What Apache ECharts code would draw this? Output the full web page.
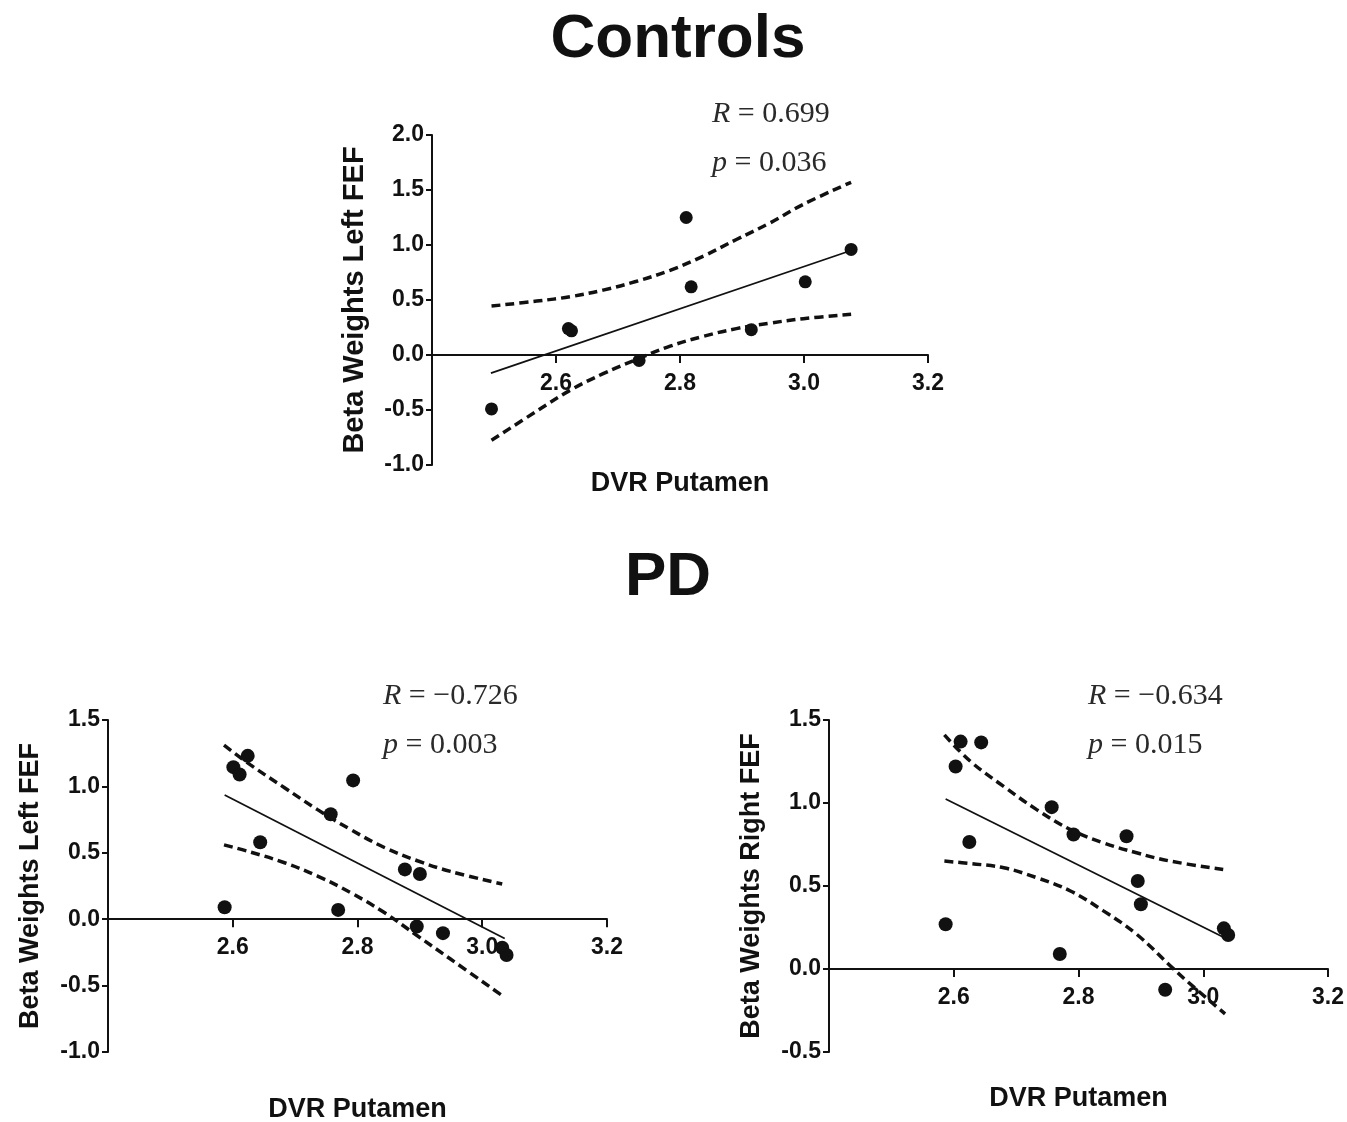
<!DOCTYPE html>
<html>
<head>
<meta charset="utf-8">
<script src="https://cdn.jsdelivr.net/npm/echarts@6/dist/echarts.min.js"></script>
<style>
html,body{margin:0;padding:0;background:#fff;}
#chart{width:1347px;height:1122px;}
</style>
</head>
<body>
<div id="chart"></div>
<script>
// ---------- DATA ----------
// Controls panel
const ctrlDvr  = [2.496, 2.620, 2.625, 2.734, 2.810, 2.818, 2.915, 3.002, 3.076];
const ctrlBeta = [-0.49, 0.24, 0.22, -0.05, 1.25, 0.62, 0.23, 0.665, 0.96];
const ctrlFitX = [2.495, 3.076];
const ctrlFitY = [-0.164, 0.950];
const ctrlUpX  = [2.496, 2.569, 2.623, 2.676, 2.730, 2.784, 2.838, 2.891, 2.945, 2.999, 3.076];
const ctrlUpY  = [0.445, 0.49, 0.53, 0.59, 0.67, 0.77, 0.90, 1.05, 1.20, 1.37, 1.57];
const ctrlLoX  = [2.496, 2.569, 2.623, 2.676, 2.730, 2.784, 2.838, 2.891, 2.945, 2.999, 3.076];
const ctrlLoY  = [-0.775, -0.51, -0.32, -0.17, -0.04, 0.08, 0.17, 0.24, 0.29, 0.33, 0.37];

// PD – left FEF
const pdLDvr  = [2.587, 2.601, 2.611, 2.624, 2.644, 2.757, 2.769, 2.793, 2.876, 2.900, 2.895, 2.937, 3.032, 3.039];
const pdLBeta = [0.09, 1.145, 1.09, 1.23, 0.58, 0.79, 0.07, 1.045, 0.375, 0.34, -0.055, -0.105, -0.215, -0.27];
const pdLFitX = [2.587, 3.036];
const pdLFitY = [0.935, -0.145];
const pdLUpX  = [2.586, 2.629, 2.683, 2.736, 2.789, 2.843, 2.896, 2.949, 3.032];
const pdLUpY  = [1.31, 1.16, 0.99, 0.825, 0.675, 0.54, 0.44, 0.36, 0.265];
const pdLLoX  = [2.586, 2.629, 2.683, 2.736, 2.789, 2.843, 2.896, 2.949, 3.035];
const pdLLoY  = [0.56, 0.505, 0.425, 0.325, 0.20, 0.05, -0.125, -0.30, -0.585];

// PD – right FEF
const pdRDvr  = [2.587, 2.603, 2.611, 2.644, 2.625, 2.757, 2.770, 2.792, 2.877, 2.895, 2.900, 2.939, 3.033, 3.040];
const pdRBeta = [0.27, 1.22, 1.37, 1.365, 0.765, 0.975, 0.09, 0.81, 0.80, 0.53, 0.39, -0.125, 0.245, 0.205];
const pdRFitX = [2.587, 3.035];
const pdRFitY = [1.024, 0.187];
const pdRUpX  = [2.585, 2.627, 2.680, 2.733, 2.787, 2.840, 2.893, 2.947, 3.032];
const pdRUpY  = [1.41, 1.25, 1.10, 0.96, 0.84, 0.76, 0.70, 0.65, 0.60];
const pdRLoX  = [2.585, 2.627, 2.680, 2.733, 2.787, 2.840, 2.893, 2.947, 2.973, 3.035];
const pdRLoY  = [0.65, 0.635, 0.61, 0.55, 0.47, 0.35, 0.21, 0.02, -0.07, -0.27];

// Axis ranges / ticks
const xRange = {min: 2.4, max: 3.2, step: 0.2};
const yRanges = [
  {min: -1.0, max: 2.0, step: 0.5},
  {min: -1.0, max: 1.5, step: 0.5},
  {min: -0.5, max: 1.5, step: 0.5}
];
const yTitles = ['Beta Weights Left FEF', 'Beta Weights Left FEF', 'Beta Weights Right FEF'];
const xTitle = 'DVR Putamen';
const stats = [
  {r: '0.699', p: '0.036'},
  {r: '\u22120.726', p: '0.003'},
  {r: '\u22120.634', p: '0.015'}
];
const headings = ['Controls', 'PD'];

// ---------- CHART ----------
const INK = '#111';
const SANS = '"Liberation Sans", Arial, Helvetica, sans-serif';
const SERIF = '"Liberation Serif", "Times New Roman", serif';
const pairs = (xs, ys) => xs.map((x, k) => [x, ys[k]]);

const grids = [
  {left: 432, top: 135, width: 496, height: 330},
  {left: 108, top: 720, width: 499, height: 332},
  {left: 829, top: 720, width: 499, height: 332}
];
const yNameGaps = [63, 64, 64];
const yNameSizes = [29, 27, 27];
const xNameGaps = [115, 177, 116];

// x axis drawn through y = 0 (placed by offset so labels/name follow it)
const xAxes = grids.map((g, i) => ({
  type: 'value', gridIndex: i, position: 'bottom',
  offset: -g.height * (0 - yRanges[i].min) / (yRanges[i].max - yRanges[i].min),
  min: xRange.min, max: xRange.max, interval: xRange.step,
  axisLine: {show: true, onZero: false, lineStyle: {color: INK, width: 2}},
  axisTick: {show: true, length: 8, lineStyle: {color: INK, width: 2}},
  axisLabel: {
    showMinLabel: false, margin: 17,
    fontSize: 23, fontWeight: 'bold', color: INK, fontFamily: SANS,
    formatter: v => v.toFixed(1)
  },
  splitLine: {show: false},
  name: xTitle, nameLocation: 'middle', nameGap: xNameGaps[i],
  nameTextStyle: {fontSize: 27, fontWeight: 'bold', color: INK, fontFamily: SANS}
}));

const yAxes = grids.map((g, i) => ({
  type: 'value', gridIndex: i,
  min: yRanges[i].min, max: yRanges[i].max, interval: yRanges[i].step,
  axisLine: {show: true, onZero: false, lineStyle: {color: INK, width: 2}},
  axisTick: {show: true, length: 6, lineStyle: {color: INK, width: 2}},
  axisLabel: {
    margin: 8,
    fontSize: 23, fontWeight: 'bold', color: INK, fontFamily: SANS,
    formatter: v => v.toFixed(1)
  },
  splitLine: {show: false},
  name: yTitles[i], nameLocation: 'middle', nameGap: yNameGaps[i],
  nameTextStyle: {fontSize: yNameSizes[i], fontWeight: 'bold', color: INK, fontFamily: SANS}
}));

const panels = [
  {x: ctrlDvr, y: ctrlBeta, fx: ctrlFitX, fy: ctrlFitY, ux: ctrlUpX, uy: ctrlUpY, lx: ctrlLoX, ly: ctrlLoY, size: 13},
  {x: pdLDvr, y: pdLBeta, fx: pdLFitX, fy: pdLFitY, ux: pdLUpX, uy: pdLUpY, lx: pdLLoX, ly: pdLLoY, size: 14},
  {x: pdRDvr, y: pdRBeta, fx: pdRFitX, fy: pdRFitY, ux: pdRUpX, uy: pdRUpY, lx: pdRLoX, ly: pdRLoY, size: 14}
];

const series = [];
panels.forEach((p, i) => {
  const dashed = {color: INK, width: 3.5, type: [9, 5]};
  series.push({type: 'line', xAxisIndex: i, yAxisIndex: i, data: pairs(p.ux, p.uy),
    smooth: 0.4, symbol: 'none', lineStyle: dashed, silent: true, z: 2});
  series.push({type: 'line', xAxisIndex: i, yAxisIndex: i, data: pairs(p.lx, p.ly),
    smooth: 0.4, symbol: 'none', lineStyle: dashed, silent: true, z: 2});
  series.push({type: 'line', xAxisIndex: i, yAxisIndex: i, data: pairs(p.fx, p.fy),
    symbol: 'none', lineStyle: {color: INK, width: 1.8}, silent: true, z: 3});
  series.push({type: 'scatter', xAxisIndex: i, yAxisIndex: i, data: pairs(p.x, p.y),
    symbol: 'circle', symbolSize: p.size, itemStyle: {color: INK, opacity: 1}, silent: true, z: 5});
});

function statText(x, y, italic, rest) {
  const base = {fontSize: 30, fontFamily: SERIF, fill: '#2a2a2a', color: '#2a2a2a'};
  return {
    type: 'text', x: x, y: y, silent: true,
    style: {
      text: '{i|' + italic + '}{n|' + rest + '}',
      rich: {
        i: Object.assign({fontStyle: 'italic'}, base),
        n: Object.assign({}, base)
      },
      font: '30px ' + SERIF,
      fill: '#2a2a2a',
      align: 'left', textAlign: 'left',
      verticalAlign: 'middle', textVerticalAlign: 'middle'
    }
  };
}
function heading(x, y, txt) {
  return {
    type: 'text', x: x, y: y, silent: true,
    style: {
      text: txt, font: 'bold 62px ' + SANS, fill: INK,
      align: 'center', textAlign: 'center',
      verticalAlign: 'middle', textVerticalAlign: 'middle'
    }
  };
}

const statPos = [
  {x: 712, yR: 114, yP: 163},
  {x: 383, yR: 696, yP: 745},
  {x: 1088, yR: 696, yP: 745}
];
const graphics = [heading(678, 40, headings[0]), heading(668, 578, headings[1])];
stats.forEach((s, i) => {
  graphics.push(statText(statPos[i].x, statPos[i].yR, 'R', ' = ' + s.r));
  graphics.push(statText(statPos[i].x, statPos[i].yP, 'p', ' = ' + s.p));
});

const chart = echarts.init(document.getElementById('chart'), null, {renderer: 'canvas'});
chart.setOption({
  animation: false,
  backgroundColor: '#fff',
  grid: grids.map(g => Object.assign({containLabel: false, outerBoundsMode: 'none'}, g)),
  xAxis: xAxes,
  yAxis: yAxes,
  series: series,
  graphic: graphics
});
</script>
</body>
</html>
